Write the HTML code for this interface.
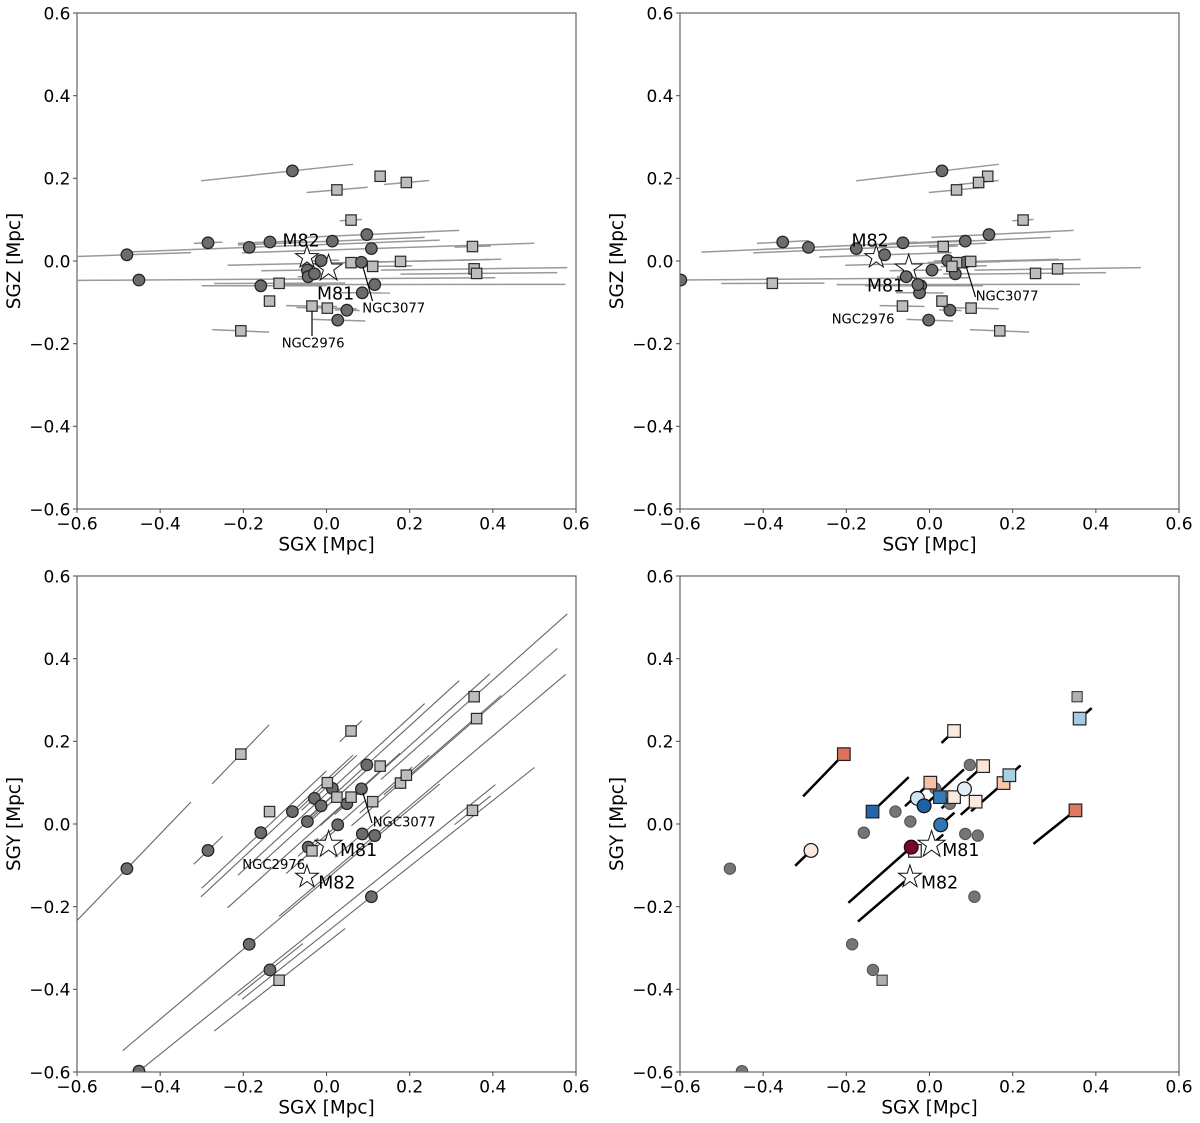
<!DOCTYPE html>
<html lang="en">
<head>
<meta charset="utf-8">
<title>SGX SGY SGZ projections around M81</title>
<style>
html,body{margin:0;padding:0;background:#fff;}
svg{display:block;}
text{font-family:"DejaVu Sans","Liberation Sans",sans-serif;fill:#000;}
.tick{font-size:17px;}
.axis{font-size:18.4px;}
.big{font-size:17.4px;}
.small{font-size:13.2px;}
</style>
</head>
<body>
<svg id="chart" xmlns="http://www.w3.org/2000/svg" width="1200" height="1123" viewBox="0 0 1200 1123">
  <defs id="clips"></defs>
  <rect x="0" y="0" width="1200" height="1123" fill="#fff"></rect>
  <g id="annotations">
    <text class="axis" x="326.5" y="550.5" text-anchor="middle">SGX [Mpc]</text>
    <text class="axis" transform="translate(20 261) rotate(-90)" text-anchor="middle">SGZ [Mpc]</text>
    <text class="axis" x="929.5" y="550.5" text-anchor="middle">SGY [Mpc]</text>
    <text class="axis" transform="translate(623 261) rotate(-90)" text-anchor="middle">SGZ [Mpc]</text>
    <text class="axis" x="326.5" y="1113.5" text-anchor="middle">SGX [Mpc]</text>
    <text class="axis" transform="translate(20 824) rotate(-90)" text-anchor="middle">SGY [Mpc]</text>
    <text class="axis" x="929.5" y="1113.5" text-anchor="middle">SGX [Mpc]</text>
    <text class="axis" transform="translate(623 824) rotate(-90)" text-anchor="middle">SGY [Mpc]</text>

    <line x1="363" y1="267" x2="372.5" y2="301" stroke="#000" stroke-width="1.2"></line>
    <line x1="312" y1="311" x2="312" y2="336" stroke="#000" stroke-width="1.2"></line>
    <line x1="966" y1="266" x2="975.5" y2="297" stroke="#000" stroke-width="1.2"></line>
    <line x1="363" y1="793" x2="372" y2="823" stroke="#000" stroke-width="1.2"></line>

    <text class="big" x="282.5" y="246.7">M82</text>
    <text class="big" x="317" y="299.3">M81</text>
    <text class="small" x="362.3" y="312.3">NGC3077</text>
    <text class="small" x="281.7" y="347.7">NGC2976</text>

    <text class="big" x="851.5" y="246.7">M82</text>
    <text class="big" x="867" y="291.7">M81</text>
    <text class="small" x="975.7" y="300.7">NGC3077</text>
    <text class="small" x="831.7" y="323.3">NGC2976</text>

    <text class="big" x="340" y="856">M81</text>
    <text class="big" x="318.3" y="888.3">M82</text>
    <text class="small" x="372.7" y="826.7">NGC3077</text>
    <text class="small" x="242.3" y="869">NGC2976</text>

    <text class="big" x="942.3" y="856">M81</text>
    <text class="big" x="921" y="888.3">M82</text>
  </g>
</svg>
<script>
// Tick values shared by every axis
const tickValues = [-0.6, -0.4, -0.2, 0.0, 0.2, 0.4, 0.6];

// Observer position used to orient line-of-sight segments (Mpc)
const observerX = -2.63;
const observerY = -2.36;
const observerZ = -0.06;

// Circle-marker galaxies (Mpc)
const circleX = [-0.48, -0.451, -0.285, -0.186, -0.158, -0.136, -0.082, -0.046, -0.044, -0.029, -0.013, 0.014, 0.027, 0.049, 0.084, 0.086, 0.097, 0.108, 0.116];
const circleY = [-0.108, -0.598, -0.064, -0.291, -0.021, -0.353, 0.03, 0.006, -0.056, 0.062, 0.044, 0.086, -0.002, 0.049, 0.085, -0.024, 0.143, -0.176, -0.028];
const circleZ = [0.015, -0.046, 0.044, 0.033, -0.06, 0.046, 0.218, -0.022, -0.038, -0.031, 0.001, 0.048, -0.143, -0.119, -0.003, -0.077, 0.064, 0.03, -0.057];
// SGX of each line-of-sight error segment end
const circleNear = [-0.63, -0.72, -0.319, -0.49, -0.30, -0.213, -0.302, -0.157, -0.069, -0.06, -0.05, -0.213, -0.033, 0.02, -0.015, 0.02, -0.054, -0.203, -0.114];
const circleFar = [-0.326, 0.406, -0.25, 0.272, 0.0, -0.057, 0.064, -0.02, -0.02, 0.01, 0.03, 0.236, 0.093, 0.08, 0.393, 0.153, 0.319, 0.5, 0.575];
// Colour-scale value (-1..1), null means no measurement
const circleSpeed = [null, null, 0.1, null, null, null, null, null, 0.95, -0.2, -0.82, null, -0.72, null, -0.1, null, null, null, null];
// SGX of bold segment ends in the bottom-right panel
const circleBoldNear = [null, null, -0.323, null, null, null, null, null, -0.195, null, -0.013, null, 0.027, null, null, null, null, null, null];
const circleBoldFar = [null, null, -0.285, null, null, null, null, null, -0.044, null, 0.083, null, 0.06, null, null, null, null, null, null];

// Square-marker galaxies (Mpc)
const squareX = [-0.206, -0.137, -0.114, -0.035, 0.002, 0.025, 0.059, 0.059, 0.111, 0.129, 0.178, 0.192, 0.351, 0.355, 0.361];
const squareY = [0.169, 0.03, -0.378, -0.065, 0.1, 0.065, 0.225, 0.065, 0.054, 0.14, 0.099, 0.118, 0.033, 0.308, 0.255];
const squareZ = [-0.169, -0.097, -0.054, -0.109, -0.114, 0.172, 0.099, -0.004, -0.013, 0.205, -0.001, 0.19, 0.035, -0.019, -0.03];
const squareNear = [-0.275, -0.137, -0.27, -0.097, -0.072, -0.048, 0.032, -0.238, 0.08, 0.129, 0.06, 0.138, 0.308, 0.131, 0.178];
const squareFar = [-0.138, -0.137, 0.045, 0.025, 0.073, 0.099, 0.085, 0.177, 0.206, 0.129, 0.42, 0.247, 0.395, 0.579, 0.555];
const squareSpeed = [0.55, -0.8, null, -0.02, 0.3, -0.7, 0.1, 0.1, 0.1, 0.13, 0.28, -0.33, 0.53, null, -0.35];
const squareBoldNear = [-0.304, -0.137, null, null, -0.059, null, 0.029, 0.029, 0.075, 0.09, 0.10, 0.192, 0.25, null, 0.361];
const squareBoldFar = [-0.206, -0.05, null, null, 0.002, null, 0.059, 0.059, 0.12, 0.129, 0.178, 0.219, 0.351, null, 0.39];

// Main group galaxies
const starNames = ['M81', 'M82'];
const starX = [0.005, -0.047];
const starY = [-0.05, -0.128];
const starZ = [-0.018, 0.009];
const starBoldNear = [0.0, -0.172];
const starBoldFar = [0.033, -0.06];

// Colour ramp stops for the velocity scale (RdBu reversed)
const rampColours = ['#053061', '#2166ac', '#4393c3', '#92c5de', '#d1e5f0', '#f7f7f7', '#fddbc7', '#f4a582', '#d6604d', '#b2182b', '#67001f'];

const SVG_NS = 'http://www.w3.org/2000/svg';
const svg = document.getElementById('chart');
const annotations = document.getElementById('annotations');
const clips = document.getElementById('clips');

const panelLayout = [
  {key: 'top-left', left: 77, top: 13, h: 'x', v: 'z'},
  {key: 'top-right', left: 680, top: 13, h: 'y', v: 'z'},
  {key: 'bottom-left', left: 77, top: 576, h: 'x', v: 'y'},
  {key: 'bottom-right', left: 680, top: 576, h: 'x', v: 'y', bold: true}
];
const panelWidth = 499;
const panelHeight = 496;
const domainMin = -0.6;
const domainMax = 0.6;

function el(tag, attrs, parent) {
  const node = document.createElementNS(SVG_NS, tag);
  for (const k in attrs) node.setAttribute(k, attrs[k]);
  if (parent) parent.appendChild(node);
  return node;
}
function scaleH(p, v) { return p.left + (v - domainMin) / (domainMax - domainMin) * panelWidth; }
function scaleV(p, v) { return p.top + panelHeight - (v - domainMin) / (domainMax - domainMin) * panelHeight; }
function tickText(v) { return (v < 0 ? '\u2212' : '') + Math.abs(v).toFixed(1); }

// Point on the line of sight through a galaxy, located by its SGX value
function alongSight(x, y, z, endX) {
  const t = (endX - x) / (x - observerX);
  return {x: endX, y: y + t * (y - observerY), z: z + t * (z - observerZ)};
}
function rampColour(v) {
  const pos = (Math.max(-1, Math.min(1, v)) + 1) / 2 * (rampColours.length - 1);
  const i = Math.min(rampColours.length - 2, Math.floor(pos));
  const f = pos - i;
  const a = parseInt(rampColours[i].slice(1), 16);
  const b = parseInt(rampColours[i + 1].slice(1), 16);
  const mix = function (s) { return Math.round(((a >> s) & 255) * (1 - f) + ((b >> s) & 255) * f); };
  return 'rgb(' + mix(16) + ',' + mix(8) + ',' + mix(0) + ')';
}
function starPoints(cx, cy, r) {
  const pts = [];
  for (let i = 0; i < 10; i++) {
    const rad = i % 2 === 0 ? r : r * 0.382;
    const ang = -Math.PI / 2 + i * Math.PI / 5;
    pts.push((cx + rad * Math.cos(ang)).toFixed(2) + ',' + (cy + rad * Math.sin(ang)).toFixed(2));
  }
  return pts.join(' ');
}

function drawAxes(p, index) {
  const axes = el('g', {});
  
  
  svg.insertBefore(axes, annotations);
  const frame = el('rect', {x: p.left, y: p.top, width: panelWidth, height: panelHeight, fill: 'none', stroke: '#555', 'stroke-width': 1.1}, axes);
  
  
  tickValues.forEach(function (v) {
    const px = scaleH(p, v);
    const py = scaleV(p, v);
    const xt = el('line', {x1: px, x2: px, y1: p.top + panelHeight, y2: p.top + panelHeight + 4, stroke: '#555', 'stroke-width': 1.1}, axes);
    
    
    const yt = el('line', {x1: p.left - 4, x2: p.left, y1: py, y2: py, stroke: '#555', 'stroke-width': 1.1}, axes);
    
    
    const xl = el('text', {x: px, y: p.top + panelHeight + 20.3, 'text-anchor': 'middle', 'class': 'tick'}, axes);
    xl.textContent = tickText(v);
    
    
    const yl = el('text', {x: p.left - 6.5, y: py + 6.4, 'text-anchor': 'end', 'class': 'tick'}, axes);
    yl.textContent = tickText(v);
    
    
  });
  const clip = el('clipPath', {id: 'clip-' + index}, clips);
  el('rect', {x: p.left, y: p.top, width: panelWidth, height: panelHeight}, clip);
}

function drawSegment(g, p, x, y, z, a, b, stroke, width, name) {
  const s = alongSight(x, y, z, a);
  const e = alongSight(x, y, z, b);
  const line = el('line', {
    x1: scaleH(p, s[p.h]), y1: scaleV(p, s[p.v]),
    x2: scaleH(p, e[p.h]), y2: scaleV(p, e[p.v]),
    stroke: stroke, 'stroke-width': width
  }, g);
  
  
}

function drawCircle(g, p, i, bold) {
  const pos = {x: circleX[i], y: circleY[i], z: circleZ[i]};
  const speed = circleSpeed[i];
  let r = 5.8, fill = '#6c6c6c', stroke = '#222', sw = 1.2;
  if (bold) {
    if (speed === null) { r = 5.7; fill = '#757575'; stroke = '#4f4f4f'; sw = 1; }
    else { r = 6.9; fill = rampColour(speed); stroke = '#111'; sw = 1.2; }
  }
  const c = el('circle', {cx: scaleH(p, pos[p.h]), cy: scaleV(p, pos[p.v]), r: r, fill: fill, stroke: stroke, 'stroke-width': sw}, g);
  
  
  return c;
}
function drawSquare(g, p, i, bold) {
  const pos = {x: squareX[i], y: squareY[i], z: squareZ[i]};
  const speed = squareSpeed[i];
  let half = 5.2, fill = '#bdbdbd', stroke = '#2a2a2a', sw = 1.2;
  if (bold) {
    if (speed === null) { half = 5.1; fill = '#b0b0b0'; stroke = '#3a3a3a'; sw = 1.1; }
    else { half = 6.3; fill = rampColour(speed); stroke = '#222'; sw = 1.2; }
  }
  const cx = scaleH(p, pos[p.h]);
  const cy = scaleV(p, pos[p.v]);
  const s = el('rect', {x: cx - half, y: cy - half, width: 2 * half, height: 2 * half, fill: fill, stroke: stroke, 'stroke-width': sw}, g);
  
  
  return s;
}
function drawStars(g, p) {
  starNames.forEach(function (name, i) {
    const pos = {x: starX[i], y: starY[i], z: starZ[i]};
    const radius = name === 'M81' ? 14.2 : 12;
    const star = el('polygon', {points: starPoints(scaleH(p, pos[p.h]), scaleV(p, pos[p.v]), radius), fill: '#fff', stroke: '#111', 'stroke-width': 1}, g);
    
    
  });
}

function drawPanel(p, index) {
  drawAxes(p, index);
  const g = el('g', {'clip-path': 'url(#clip-' + index + ')'});
  
  
  svg.insertBefore(g, annotations);

  if (p.bold) {
    circleX.forEach(function (x, i) {
      if (circleBoldNear[i] === null) return;
      drawSegment(g, p, x, circleY[i], circleZ[i], circleBoldNear[i], circleBoldFar[i], '#000', 2.5, 'bold-sight-line');
    });
    squareX.forEach(function (x, i) {
      if (squareBoldNear[i] === null) return;
      drawSegment(g, p, x, squareY[i], squareZ[i], squareBoldNear[i], squareBoldFar[i], '#000', 2.5, 'bold-sight-line');
    });
    starNames.forEach(function (n, i) {
      drawSegment(g, p, starX[i], starY[i], starZ[i], starBoldNear[i], starBoldFar[i], '#000', 2.5, 'bold-sight-line');
    });
    circleX.forEach(function (x, i) { if (circleSpeed[i] === null) drawCircle(g, p, i, true); });
    squareX.forEach(function (x, i) { if (squareSpeed[i] === null) drawSquare(g, p, i, true); });
    squareX.forEach(function (x, i) { if (squareSpeed[i] !== null) drawSquare(g, p, i, true); });
    circleX.forEach(function (x, i) { if (circleSpeed[i] !== null) drawCircle(g, p, i, true); });
    drawStars(g, p);
    return;
  }

  const lineColour = index === 2 ? '#666' : '#999';
  const lineWidth = index === 2 ? 1.1 : 1.5;
  circleX.forEach(function (x, i) {
    drawSegment(g, p, x, circleY[i], circleZ[i], circleNear[i], circleFar[i], lineColour, lineWidth, 'sight-line');
  });
  squareX.forEach(function (x, i) {
    if (squareNear[i] === squareFar[i]) return;
    drawSegment(g, p, x, squareY[i], squareZ[i], squareNear[i], squareFar[i], lineColour, lineWidth, 'sight-line');
  });
  drawStars(g, p);
  const circleMarks = circleX.map(function (x, i) { return drawCircle(g, p, i, false); });
  squareX.forEach(function (x, i) { drawSquare(g, p, i, false); });
  if (index === 0) g.appendChild(circleMarks[14]);
}

panelLayout.forEach(drawPanel);
</script>
</body>
</html>
